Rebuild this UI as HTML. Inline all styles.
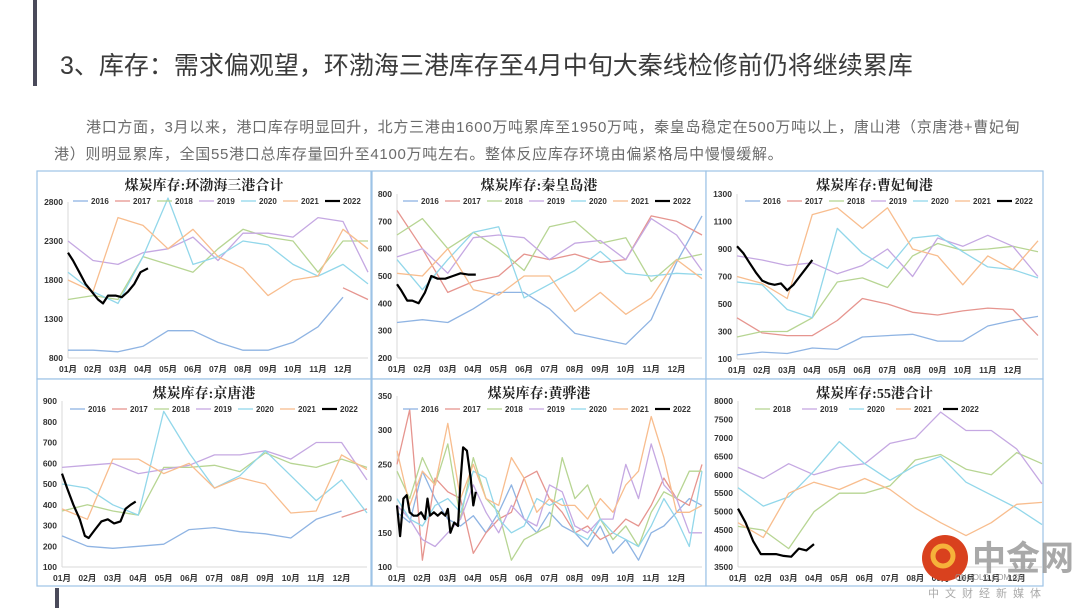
<!DOCTYPE html>
<html><head><meta charset="utf-8">
<style>
body{margin:0;width:1080px;height:608px;background:#fff;overflow:hidden;font-family:"Liberation Sans","Noto Sans CJK SC",sans-serif;}
#root{position:relative;width:1080px;height:608px;}
.ttl{position:absolute;left:60px;top:46px;font-size:25px;color:#3a3a3a;white-space:nowrap;}
.para{position:absolute;left:54px;width:1010px;font-size:15px;color:#6b6b6b;line-height:27px;top:114px;white-space:nowrap;letter-spacing:0.7px;}
svg{position:absolute;left:0;top:0;}
</style></head><body>
<div id="root">
<div style="position:absolute;left:33px;top:0;width:4px;height:86px;background:#4a4a5a"></div>
<div style="position:absolute;left:55px;top:588px;width:4px;height:20px;background:#4a4a5a"></div>
<div class="ttl">3、库存：需求偏观望，环渤海三港库存至4月中旬大秦线检修前仍将继续累库</div>
<div class="para"><span style="padding-left:32px">港口方面，3月以来，港口库存明显回升，北方三港由1600万吨累库至1950万吨，秦皇岛稳定在500万吨以上，唐山港（京唐港+曹妃甸</span><br>港）则明显累库，全国55港口总库存量回升至4100万吨左右。整体反应库存环境由偏紧格局中慢慢缓解。</div>
<svg id="chart" width="1080" height="608"></svg>
</div>
<script>
const yearLabels=['2016','2017','2018','2019','2020','2021','2022'];
const monthLabels=['01月','02月','03月','04月','05月','06月','07月','08月','09月','10月','11月','12月'];
const M13=[0,1,2,3,4,5,6,7,8,9,10,11,12];
const M25=[0,0.5,1,1.5,2,2.5,3,3.5,4,4.5,5,5.5,6,6.5,7,7.5,8,8.5,9,9.5,10,10.5,11,11.5,12];
// Panel 1 环渤海三港
const p1Ticks=[800,1300,1800,2300,2800];
const p1_2016=[900,900,880,950,1150,1150,1000,900,900,1000,1200,1580,null];
const p1_2017=[null,null,null,null,null,null,null,null,null,null,null,1700,1550];
const p1_2018=[1550,1600,1550,2100,2000,1900,2200,2450,2350,2300,1900,2300,2300];
const p1_2019=[2300,2050,2000,2150,2200,2350,2050,2400,2400,2350,2600,2550,1900];
const p1_2020=[1900,1650,1500,2100,2850,2000,2100,2300,2250,2000,1850,2000,1750];
const p1_2021=[1800,1650,2600,2500,2200,2450,2100,1950,1600,1800,1850,2450,2200];
const p1_2022m=[0,0.2,0.45,0.7,0.95,1.2,1.4,1.6,1.9,2.15,2.4,2.65,2.9,3.2];
const p1_2022=[2150,2050,1900,1750,1650,1550,1500,1600,1600,1580,1650,1750,1900,1950];
// Panel 2 秦皇岛
const p2Ticks=[200,300,400,500,600,700,800];
const p2_2016=[330,340,330,380,440,440,380,290,270,250,340,550,720];
const p2_2017=[740,600,440,480,500,580,560,580,550,560,720,700,650];
const p2_2018=[650,710,600,660,600,520,680,700,620,640,480,560,580];
const p2_2019=[570,600,510,640,650,640,560,620,630,560,710,650,520];
const p2_2020=[560,450,560,660,680,420,470,520,590,510,500,510,505];
const p2_2021=[510,500,600,450,430,500,500,370,440,360,420,560,490];
const p2_2022m=[0,0.15,0.4,0.6,0.85,1.1,1.35,1.6,1.9,2.2,2.5,2.8,3.1];
const p2_2022=[470,450,410,410,400,440,500,490,490,500,510,505,505];
// Panel 3 曹妃甸
const p3Ticks=[100,300,500,700,900,1100,1300];
const p3_2016=[130,150,140,180,170,260,270,280,230,230,340,380,410];
const p3_2017=[400,290,270,270,380,540,500,440,420,450,470,460,270];
const p3_2018=[260,300,300,400,660,690,620,850,940,890,900,920,880];
const p3_2019=[850,820,780,800,720,780,900,700,980,920,1000,920,700];
const p3_2020=[660,640,460,400,1050,870,760,980,1000,880,770,750,690];
const p3_2021=[700,650,540,1150,1200,1050,1200,900,850,640,850,750,960];
const p3_2022m=[0,0.25,0.5,0.75,1,1.25,1.5,1.75,2,2.25,2.5,2.75,3];
const p3_2022=[920,870,800,730,670,650,640,650,600,640,700,760,820];
// Panel 4 京唐
const p4Ticks=[100,200,300,400,500,600,700,800,900];
const p4_2016=[250,200,190,200,210,280,290,270,260,240,330,370,null];
const p4_2017=[null,null,null,null,null,null,null,null,null,null,null,340,380];
const p4_2018=[370,400,370,350,580,580,590,560,650,600,580,620,580];
const p4_2019=[580,590,600,550,570,590,640,640,660,620,700,700,520];
const p4_2020=[500,480,400,350,850,650,480,540,660,540,420,520,360];
const p4_2021=[380,330,620,620,550,600,480,530,500,360,370,640,570];
const p4_2022m=[0,0.2,0.45,0.7,0.9,1.05,1.3,1.55,1.8,2.05,2.3,2.5,2.7,2.9];
const p4_2022=[550,480,400,330,250,240,280,320,330,310,320,380,400,415];
// Panel 5 黄骅
const p5Ticks=[100,150,200,250,300,350];
const p5_2016=[180,165,240,200,170,160,175,150,180,220,170,150,180,160,150,130,160,120,140,110,150,160,180,200,190];
const p5_2017=[250,330,110,230,210,200,120,150,170,180,230,240,200,180,150,160,140,150,170,160,190,230,200,190,250];
const p5_2018=[240,200,260,220,280,170,260,200,180,110,140,150,160,260,200,220,170,140,160,130,180,210,200,240,240];
const p5_2019=[190,170,140,130,150,170,220,180,150,190,170,160,220,210,160,150,170,170,250,200,280,220,200,150,150];
const p5_2020=[200,170,160,190,200,180,240,230,170,150,160,200,190,200,150,140,170,150,140,130,160,200,170,130,240];
const p5_2021=[270,190,240,220,310,200,250,200,190,260,230,180,200,190,190,170,200,180,220,240,320,260,180,180,190];
const p5_2022m=[0,0.12,0.25,0.38,0.5,0.65,0.8,0.95,1.1,1.2,1.3,1.45,1.6,1.75,1.9,2.0,2.1,2.25,2.4,2.5,2.6,2.75,2.9,3.0,3.1];
const p5_2022=[190,145,200,205,180,175,175,180,170,200,175,180,175,180,175,185,150,165,160,225,275,270,230,190,210];
// Panel 6 55港
const p6Ticks=[3500,4000,4500,5000,5500,6000,6500,7000,7500,8000];
const p6_2018=[4600,4500,4000,5000,5500,5500,5700,6400,6550,6150,6000,6600,6300];
const p6_2019=[6200,5900,6300,6000,6200,6300,6850,7000,7700,7200,7200,6700,5750];
const p6_2020=[5650,5150,5400,6100,6900,6300,5850,6250,6500,5800,5450,5100,4650];
const p6_2021=[4700,4300,5500,5800,5600,5900,5600,5100,4700,4350,4700,5200,5250];
const p6_2022m=[0,0.3,0.6,0.9,1.2,1.5,1.8,2.1,2.4,2.7,3.0];
const p6_2022=[5080,4700,4200,3850,3850,3850,3800,3780,4000,3950,4120];

const COL={'2016':'#8fb4e3','2017':'#e6958f','2018':'#b7d593','2019':'#c5a8e2','2020':'#92d7ea','2021':'#f8bd8e','2022':'#000'};
const NS='http://www.w3.org/2000/svg';
const svg=document.getElementById('chart');
function mk(tag,attrs,parent){const e=document.createElementNS(NS,tag);for(const k in attrs)e.setAttribute(k,attrs[k]);(parent||svg).appendChild(e);return e;}

const panels=[
 {name:'huanbohai',title:'煤炭库存:环渤海三港合计',box:[37,171,334,208],x0:68,x1:368,yt:202,yb:358,ticks:p1Ticks,leg:[73,201,42],
  series:[['2016',M13,p1_2016],['2017',M13,p1_2017],['2018',M13,p1_2018],['2019',M13,p1_2019],['2020',M13,p1_2020],['2021',M13,p1_2021],['2022',p1_2022m,p1_2022]]},
 {name:'qinhuangdao',title:'煤炭库存:秦皇岛港',box:[372,171,334,208],x0:397,x1:702,yt:194,yb:358,ticks:p2Ticks,leg:[403,201,42],
  series:[['2016',M13,p2_2016],['2017',M13,p2_2017],['2018',M13,p2_2018],['2019',M13,p2_2019],['2020',M13,p2_2020],['2021',M13,p2_2021],['2022',p2_2022m,p2_2022]]},
 {name:'caofeidian',title:'煤炭库存:曹妃甸港',box:[706,171,337,208],x0:737,x1:1038,yt:194,yb:359,ticks:p3Ticks,leg:[745,201,42],
  series:[['2016',M13,p3_2016],['2017',M13,p3_2017],['2018',M13,p3_2018],['2019',M13,p3_2019],['2020',M13,p3_2020],['2021',M13,p3_2021],['2022',p3_2022m,p3_2022]]},
 {name:'jingtang',title:'煤炭库存:京唐港',box:[37,379,334,207],x0:62,x1:367,yt:401,yb:567,ticks:p4Ticks,leg:[70,409,42],
  series:[['2016',M13,p4_2016],['2017',M13,p4_2017],['2018',M13,p4_2018],['2019',M13,p4_2019],['2020',M13,p4_2020],['2021',M13,p4_2021],['2022',p4_2022m,p4_2022]]},
 {name:'huanghua',title:'煤炭库存:黄骅港',box:[372,379,334,207],x0:397,x1:702,yt:396,yb:567,ticks:p5Ticks,leg:[403,409,42],
  series:[['2016',M25,p5_2016],['2017',M25,p5_2017],['2018',M25,p5_2018],['2019',M25,p5_2019],['2020',M25,p5_2020],['2021',M25,p5_2021],['2022',p5_2022m,p5_2022]]},
 {name:'55ports',title:'煤炭库存:55港合计',box:[706,379,337,207],x0:738,x1:1042,yt:401,yb:567,ticks:p6Ticks,leg:[755,409,47],
  series:[['2018',M13,p6_2018],['2019',M13,p6_2019],['2020',M13,p6_2020],['2021',M13,p6_2021],['2022',p6_2022m,p6_2022]]}
];

panels.forEach(p=>{
  const g=mk('g',{});
  
  
  const b=p.box;
  const r=mk('rect',{x:b[0],y:b[1],width:b[2],height:b[3],fill:'#fff',stroke:'#9dc3e6','stroke-width':1.2},g);
  
  
  const lo=p.ticks[0],hi=p.ticks[p.ticks.length-1];
  const X=m=>p.x0+m*(p.x1-p.x0)/12;
  const Y=v=>p.yb-(v-lo)/(hi-lo)*(p.yb-p.yt);
  const t=mk('text',{x:b[0]+b[2]/2,y:b[1]+19,'text-anchor':'middle','font-size':14,'font-weight':'bold',fill:'#222','font-family':'"Liberation Serif","Noto Serif CJK SC",serif'},g);
  t.textContent=p.title;
  
  
  mk('line',{x1:p.x0,y1:p.yt,x2:p.x0,y2:p.yb,stroke:'#d9d9d9','stroke-width':1},g);
  mk('line',{x1:p.x0,y1:p.yb,x2:p.x1,y2:p.yb,stroke:'#d9d9d9','stroke-width':1},g);
  p.ticks.forEach(v=>{
    const tl=mk('text',{x:p.x0-5,y:Y(v)+3,'text-anchor':'end','font-size':8.5,'font-weight':'bold',fill:'#333'},g);
    tl.textContent=v;
    
    
  });
  monthLabels.forEach((ml,i)=>{
    const tl=mk('text',{x:X(i),y:p.yb+14,'text-anchor':'middle','font-size':8.5,'font-weight':'bold',fill:'#333'},g);
    tl.textContent=ml;
    
    
  });
  p.series.forEach(([yr,ms,vals])=>{
    let d='';let pen=false;
    vals.forEach((v,i)=>{if(v===null){pen=false;return;}d+=(pen?'L':'M')+X(ms[i]).toFixed(1)+','+Y(v).toFixed(1);pen=true;});
    const pl=mk('path',{d:d,fill:'none',stroke:COL[yr],'stroke-width':yr==='2022'?2.2:1.3,'stroke-linejoin':'round'},g);
    
    
  });
  p.series.forEach(([yr],i)=>{
    const lx=p.leg[0]+i*p.leg[2],ly=p.leg[1];
    const lg=mk('g',{},g);
    
    
    mk('line',{x1:lx,y1:ly,x2:lx+15,y2:ly,stroke:COL[yr],'stroke-width':yr==='2022'?2.2:1.3},lg);
    const lt=mk('text',{x:lx+18,y:ly+3,'font-size':8,'font-weight':'bold',fill:'#333'},lg);
    lt.textContent=yr;
  });
});
// watermark
const wm=mk('g',{});


mk('circle',{cx:945,cy:558,r:23,fill:'#d9411e'},wm);
mk('circle',{cx:943,cy:556,r:10,fill:'none',stroke:'#f6b23a','stroke-width':5},wm);
const wt=mk('text',{x:972,y:570,'font-size':34,'font-weight':'bold',fill:'#9a9a9a','fill-opacity':0.85},wm);
wt.textContent='中金网';
const wt2=mk('text',{x:955,y:580,'font-size':8,fill:'#999'},wm);
wt2.textContent='CNGOLD.COM.CN';
const wt3=mk('text',{x:928,y:597,'font-size':11,fill:'#aaa','letter-spacing':6},wm);
wt3.textContent='中文财经新媒体';
</script>
</body></html>
